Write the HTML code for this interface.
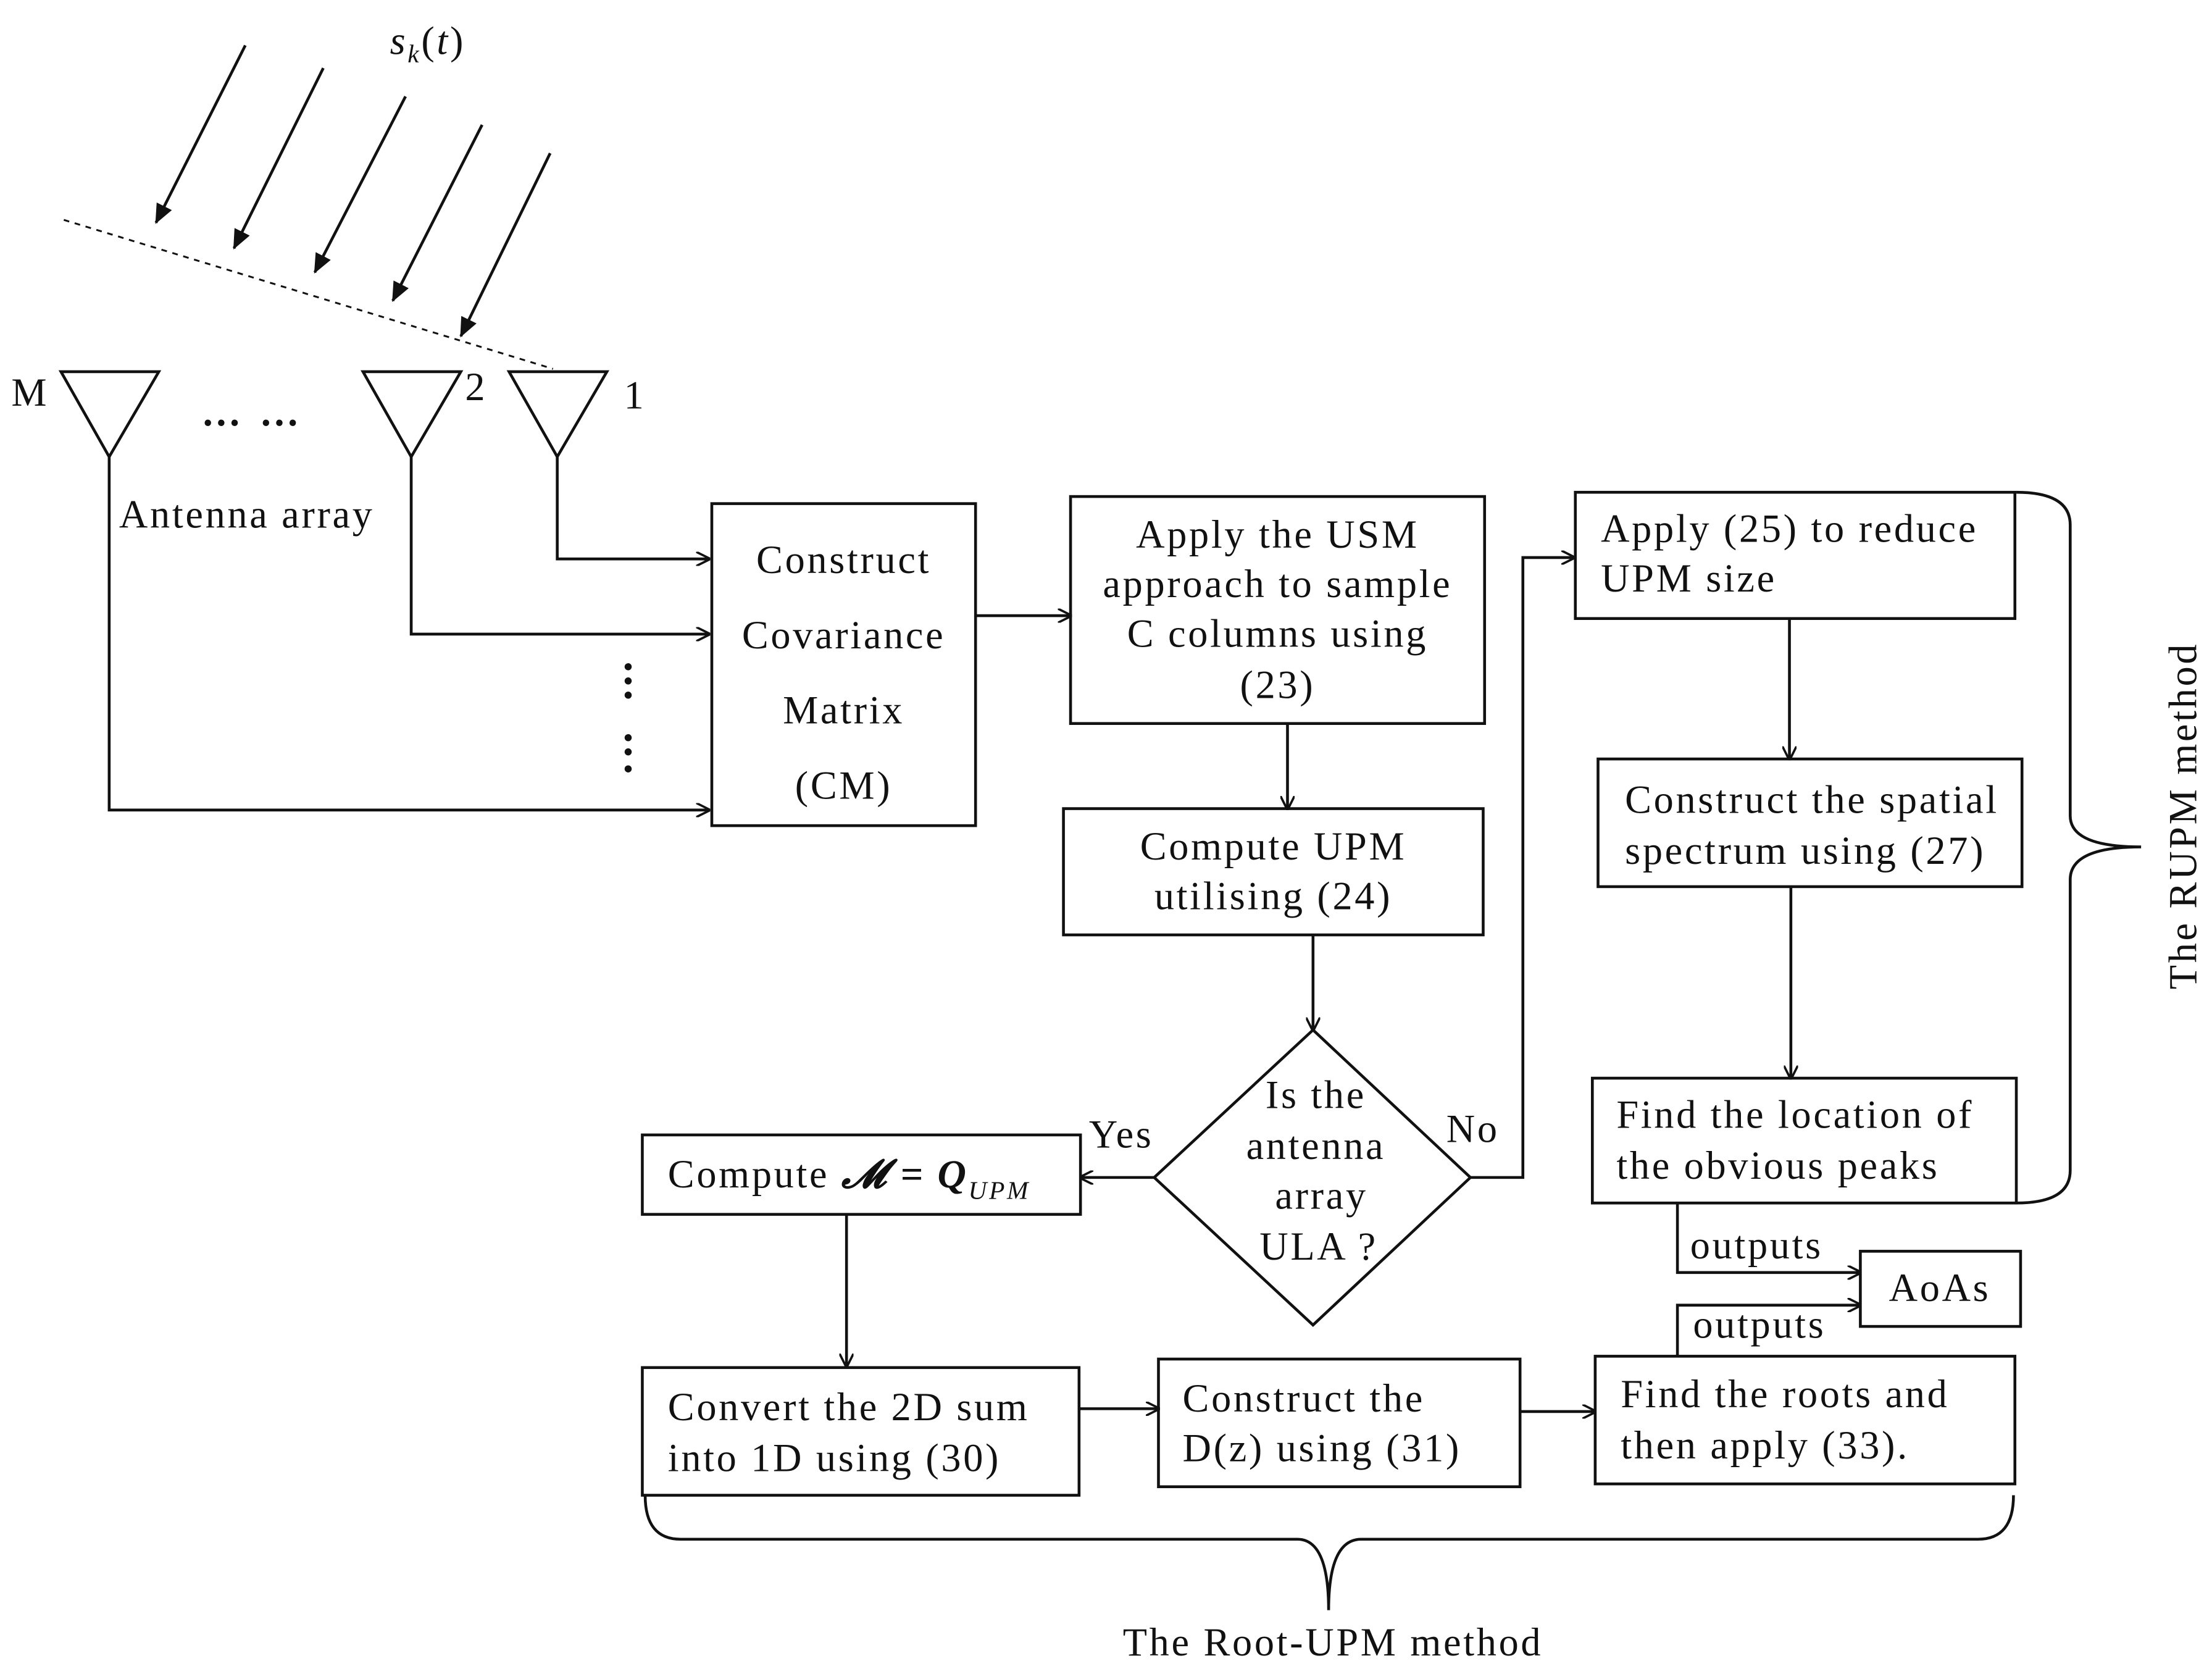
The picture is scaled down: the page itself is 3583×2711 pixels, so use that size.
<!DOCTYPE html>
<html><head><meta charset="utf-8"><style>
html,body{margin:0;padding:0;background:#fff}
svg{display:block}
text{font-family:"Liberation Serif",serif;font-size:28px;fill:#111;letter-spacing:1.6px}
</style></head><body>
<svg width="3583" height="2711" viewBox="0 0 1560 1180" preserveAspectRatio="none" xmlns="http://www.w3.org/2000/svg">
<defs>
<marker id="a" markerWidth="10" markerHeight="10" refX="9" refY="5" orient="auto" markerUnits="userSpaceOnUse">
<path d="M0,0 L10,5 L0,10" fill="none" stroke="#111" stroke-width="1.6"/></marker>
<marker id="f" markerWidth="14" markerHeight="12" refX="13" refY="6" orient="auto" markerUnits="userSpaceOnUse">
<path d="M0,0 L14,6 L0,12 Z" fill="#111"/></marker>
</defs>
<g stroke="#111" stroke-width="2" fill="none">
<line x1="173" y1="32" x2="110" y2="157" marker-end="url(#f)"/>
<line x1="228" y1="48" x2="165" y2="175" marker-end="url(#f)"/>
<line x1="286" y1="68" x2="222" y2="192" marker-end="url(#f)"/>
<line x1="340" y1="88" x2="277" y2="212" marker-end="url(#f)"/>
<line x1="388" y1="108" x2="325" y2="237" marker-end="url(#f)"/>
<line x1="45" y1="155" x2="390" y2="260" stroke-dasharray="4,4" stroke-width="1.3"/>
<path d="M43,262 L112,262 L77,322 Z"/>
<path d="M256,262 L325,262 L290,322 Z"/>
<path d="M359,262 L428,262 L393,322 Z"/>
<path d="M393,322 V394 H500" marker-end="url(#a)"/>
<path d="M290,322 V447 H500" marker-end="url(#a)"/>
<path d="M77,322 V571 H500" marker-end="url(#a)"/>
<rect x="502" y="355" width="186" height="227"/>
<rect x="755" y="350" width="292" height="160"/>
<rect x="750" y="570" width="296" height="89"/>
<path d="M926,726 L1037,830 L926,934 L814,830 Z"/>
<rect x="1111" y="347" width="310" height="89"/>
<rect x="1127" y="535" width="299" height="90"/>
<rect x="1123" y="760" width="299" height="88"/>
<rect x="453" y="800" width="309" height="56"/>
<rect x="453" y="964" width="308" height="90"/>
<rect x="817" y="958" width="255" height="90"/>
<rect x="1125" y="956" width="296" height="90"/>
<rect x="1312" y="882" width="113" height="53"/>
<line x1="688" y1="434" x2="755" y2="434" marker-end="url(#a)"/>
<line x1="908" y1="510" x2="908" y2="570" marker-end="url(#a)"/>
<line x1="926" y1="659" x2="926" y2="726" marker-end="url(#a)"/>
<line x1="814" y1="830" x2="762" y2="830" marker-end="url(#a)"/>
<path d="M1037,830 H1074 V393 H1110" marker-end="url(#a)"/>
<line x1="1262" y1="436" x2="1262" y2="535" marker-end="url(#a)"/>
<line x1="1263" y1="625" x2="1263" y2="760" marker-end="url(#a)"/>
<line x1="597" y1="856" x2="597" y2="963" marker-end="url(#a)"/>
<line x1="761" y1="993" x2="817" y2="993" marker-end="url(#a)"/>
<line x1="1072" y1="995" x2="1125" y2="995" marker-end="url(#a)"/>
<path d="M1183,848 V897 H1312" marker-end="url(#a)"/>
<path d="M1183,956 V920 H1312" marker-end="url(#a)"/>
<path d="M1422,347 Q1460,347 1460,370 V575 Q1460,597 1510,597 Q1460,597 1460,620 V825 Q1460,848 1422,848"/>
<path d="M455,1054 Q455,1085 480,1085 H915 Q937,1085 937,1135 Q937,1085 960,1085 H1395 Q1420,1085 1420,1054"/>
</g>
<g fill="#111">
<circle cx="443" cy="470" r="2.5"/><circle cx="443" cy="480" r="2.5"/><circle cx="443" cy="490" r="2.5"/>
<circle cx="443" cy="520" r="2.5"/><circle cx="443" cy="530" r="2.5"/><circle cx="443" cy="542" r="2.5"/>
</g>
<text x="275" y="38" font-style="italic">s<tspan font-size="18" dy="6">k</tspan><tspan dy="-6" font-style="normal">(</tspan>t<tspan font-style="normal">)</tspan></text>
<text x="8" y="286">M</text>
<text x="328" y="282">2</text>
<text x="440" y="288">1</text>
<text x="142" y="300" font-weight="bold" style="letter-spacing:3px">… …</text>
<text x="84" y="372">Antenna array</text>
<g text-anchor="middle">
<text x="595" y="404">Construct</text>
<text x="595" y="457">Covariance</text>
<text x="595" y="510">Matrix</text>
<text x="595" y="563">(CM)</text>
<text x="901" y="386">Apply the USM</text>
<text x="901" y="421">approach to sample</text>
<text x="901" y="456">C  columns using</text>
<text x="901" y="492">(23)</text>
<text x="898" y="606">Compute UPM</text>
<text x="898" y="641">utilising (24)</text>
<text x="928" y="781">Is the</text>
<text x="928" y="817">antenna</text>
<text x="932" y="852">array</text>
<text x="930" y="888">ULA ?</text>
<text x="1368" y="917">AoAs</text>
<text x="940" y="1167">The  Root-UPM  method</text>
</g>
<text x="768" y="809">Yes</text>
<text x="1020" y="805">No</text>
<text x="1129" y="382">Apply (25) to reduce</text>
<text x="1129" y="417">UPM size</text>
<text x="1146" y="573">Construct the spatial</text>
<text x="1146" y="609">spectrum using (27)</text>
<text x="1140" y="795">Find the location of</text>
<text x="1140" y="831">the obvious  peaks</text>
<text x="471" y="837">Compute <tspan font-weight="bold" font-style="italic">𝓜 = Q</tspan><tspan font-size="18" font-style="italic" dy="8">UPM</tspan></text>
<text x="471" y="1001">Convert the 2D sum</text>
<text x="471" y="1037">into 1D using (30)</text>
<text x="834" y="995">Construct the</text>
<text x="834" y="1030">D(z) using (31)</text>
<text x="1143" y="992">Find the roots and</text>
<text x="1143" y="1028">then apply (33).</text>
<text x="1192" y="887">outputs</text>
<text x="1194" y="943">outputs</text>
<text transform="translate(1549,575) rotate(-90)" text-anchor="middle">The  RUPM  method</text>
</svg>
</body></html>
